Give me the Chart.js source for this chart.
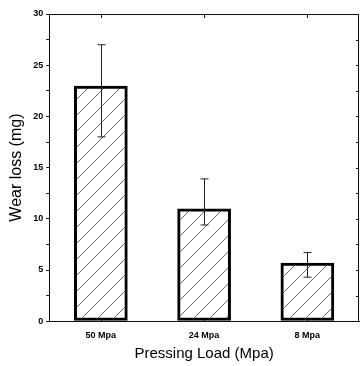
<!DOCTYPE html>
<html>
<head>
<meta charset="utf-8">
<script src="https://cdn.jsdelivr.net/npm/chart.js@4/dist/chart.umd.min.js"></script>
<style>
  html, body { margin: 0; padding: 0; background: #fff; }
  #wrap { width: 360px; height: 366px; }
</style>
</head>
<body>
<div id="wrap"><canvas id="chart" width="360" height="366"></canvas></div>
<script>
const categories = ['50 Mpa', '24 Mpa', '8 Mpa'];
const wearLoss   = [23.0, 11.0, 5.7];
const errHigh    = [27.0, 13.9, 6.7];
const errLow     = [18.0, 9.4, 4.3];
const yTicks     = [0, 5, 10, 15, 20, 25, 30];

// diagonal "/" hatching for the bars
function hatch() {
  const s = 16;
  const c = document.createElement('canvas');
  c.width = s; c.height = s;
  const g = c.getContext('2d');
  g.strokeStyle = '#444';
  g.lineWidth = 0.8;
  g.beginPath();
  g.moveTo(0, s); g.lineTo(s, 0);
  g.moveTo(-s / 2, s / 2); g.lineTo(s / 2, -s / 2);
  g.moveTo(s / 2, s * 1.5); g.lineTo(s * 1.5, s / 2);
  g.stroke();
  return g.createPattern(c, 'repeat');
}

const errorBars = {
  id: 'errorBars',
  afterDatasetsDraw(chart) {
    const { ctx, scales: { x, y } } = chart;
    ctx.save();
    ctx.strokeStyle = '#222';
    ctx.lineWidth = 1;
    categories.forEach((c, i) => {
      const px = Math.round(x.getPixelForValue(i)) + 0.5;
      const hi = y.getPixelForValue(errHigh[i]);
      const lo = y.getPixelForValue(errLow[i]);
      ctx.beginPath();
      ctx.moveTo(px, hi); ctx.lineTo(px, lo);
      ctx.moveTo(px - 4, hi); ctx.lineTo(px + 4, hi);
      ctx.moveTo(px - 4, lo); ctx.lineTo(px + 4, lo);
      ctx.stroke();
    });
    ctx.restore();
  }
};

// closes the box and adds the inward ticks on top, right and bottom
const frame = {
  id: 'frame',
  afterDraw(chart) {
    const { ctx, chartArea: a, scales: { x, y } } = chart;
    ctx.save();
    ctx.strokeStyle = '#111';
    ctx.lineWidth = 1;
    ctx.beginPath();
    ctx.moveTo(a.left, a.top + 0.5); ctx.lineTo(a.right, a.top + 0.5);
    ctx.moveTo(a.right - 0.5, a.top); ctx.lineTo(a.right - 0.5, a.bottom);
    y.ticks.forEach(t => {
      const py = Math.round(y.getPixelForValue(t.value)) + 0.5;
      ctx.moveTo(a.right, py); ctx.lineTo(a.right - 3, py);
    });
    categories.forEach((c, i) => {
      const px = Math.round(x.getPixelForValue(i)) + 0.5;
      ctx.moveTo(px, a.top); ctx.lineTo(px, a.top + 4);
      ctx.moveTo(px, a.bottom); ctx.lineTo(px, a.bottom - 3);
    });
    ctx.stroke();
    ctx.restore();
  }
};

new Chart(document.getElementById('chart'), {
  type: 'bar',
  data: {
    labels: categories,
    datasets: [{
      data: wearLoss,
      backgroundColor: hatch(),
      borderColor: '#000',
      borderWidth: 3,
      borderSkipped: false,
      categoryPercentage: 0.52,
      barPercentage: 1.0
    }]
  },
  options: {
    responsive: false,
    animation: false,
    layout: { padding: { top: 14, right: 1, left: 7, bottom: 3 } },
    plugins: { legend: { display: false }, tooltip: { enabled: false } },
    scales: {
      x: {
        grid: { display: false },
        border: { display: true, color: '#111', width: 1 },
        ticks: { color: '#000', font: { family: 'Liberation Sans', size: 9, weight: 'bold' }, padding: 1 },
        title: {
          display: true, text: 'Pressing Load (Mpa)', color: '#000',
          font: { family: 'Liberation Sans', size: 15 }, padding: { top: 3, bottom: 0 }
        }
      },
      y: {
        min: yTicks[0], max: yTicks[yTicks.length - 1],
        grid: { drawOnChartArea: false, tickLength: 3, color: '#111' },
        border: { display: true, color: '#111', width: 1 },
        ticks: {
          stepSize: 2.5, color: '#000', padding: 3,
          font: { family: 'Liberation Sans', size: 9, weight: 'bold' },
          callback: v => (yTicks.includes(v) ? v : '')
        },
        title: {
          display: true, text: 'Wear loss (mg)', color: '#000',
          font: { family: 'Liberation Sans', size: 16 }, padding: { top: 0, bottom: 4 }
        }
      }
    }
  },
  plugins: [errorBars, frame]
});
</script>
</body>
</html>
